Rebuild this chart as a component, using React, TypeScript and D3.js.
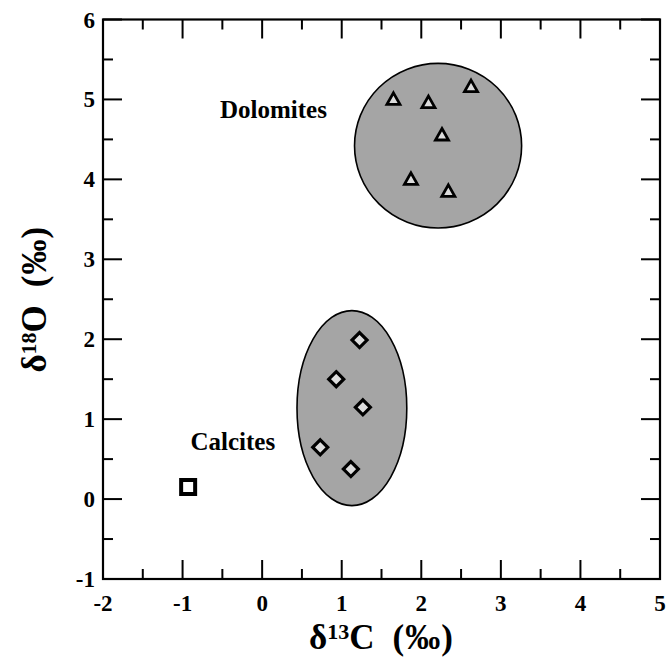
import React from "react";
import * as d3 from "d3";

const xDomain: [number, number] = [-2, 5];
const yDomain: [number, number] = [-1, 6];
const xTicks = [-2, -1, 0, 1, 2, 3, 4, 5];
const yTicks = [-1, 0, 1, 2, 3, 4, 5, 6];
const xMinor = [-1.5, -0.5, 0.5, 1.5, 2.5, 3.5, 4.5];
const yMinor = [-0.5, 0.5, 1.5, 2.5, 3.5, 4.5, 5.5];

// Dolomites (triangles)
const dolomiteX = [1.65, 2.09, 2.625, 2.26, 1.87, 2.34];
const dolomiteY = [5.0, 4.96, 5.16, 4.555, 4.0, 3.85];
// Calcites (diamonds)
const calciteX = [1.224, 0.931, 1.266, 0.73, 1.115];
const calciteY = [1.99, 1.5, 1.148, 0.648, 0.376];
// Single square point
const squareX = [-0.93];
const squareY = [0.151];

// Fields (ellipses): center x, center y, radius x, radius y
const dolomiteField = [2.211, 4.421, 1.05, 1.03];
const calciteField = [1.128, 1.138, 0.69, 1.22];

const W = 668;
const H = 660;
const left = 103;
const right = 660;
const top = 19.5;
const bottom = 579;

export default function App() {
  const x = d3.scaleLinear().domain(xDomain).range([left, right]);
  const y = d3.scaleLinear().domain(yDomain).range([bottom, top]);
  const font = "'Liberation Serif', 'Times New Roman', Times, serif";
  const major = 19;
  const minor = 10;
  const ell = (f: number[]) => ({
    cx: x(f[0]),
    cy: y(f[1]),
    rx: x(f[0] + f[2]) - x(f[0]),
    ry: y(f[1]) - y(f[1] + f[3]),
  });
  const dF = ell(dolomiteField);
  const cF = ell(calciteField);
  const tri = "M0,-6.5L6.5,5L-6.5,5Z";
  const dia = "M0,-7.5L7.5,0L0,7.5L-7.5,0Z";

  const title = (sup: string, letter: string) => (
    <>
      δ
      <tspan fontSize={22} dy={-10}>
        {sup}
      </tspan>
      <tspan dy={10}>{letter}</tspan>
      <tspan dx={18} letterSpacing={1}>
        (‰)
      </tspan>
    </>
  );

  return (
    <svg
      width={W}
      height={H}
      style={{ position: "absolute", left: 0, top: 0, display: "block", background: "#fff" }}
      fontFamily={font}
      fontWeight="bold"
    >
      {/* fields */}
      <ellipse {...dF} fill="#a5a5a5" stroke="#000" strokeWidth={1.6} />
      <ellipse {...cF} fill="#a5a5a5" stroke="#000" strokeWidth={1.6} />

      {/* ticks */}
      <g stroke="#000" strokeWidth={2}>
        {xTicks.map((t) => (
          <g key={"xt" + t}>
            <line x1={x(t)} x2={x(t)} y1={bottom} y2={bottom - major} />
            <line x1={x(t)} x2={x(t)} y1={top} y2={top + major} />
          </g>
        ))}
        {xMinor.map((t) => (
          <g key={"xm" + t}>
            <line x1={x(t)} x2={x(t)} y1={bottom} y2={bottom - minor} />
            <line x1={x(t)} x2={x(t)} y1={top} y2={top + minor} />
          </g>
        ))}
        {yTicks.map((t) => (
          <g key={"yt" + t}>
            <line x1={left} x2={left + major} y1={y(t)} y2={y(t)} />
            <line x1={right} x2={right - major} y1={y(t)} y2={y(t)} />
          </g>
        ))}
        {yMinor.map((t) => (
          <g key={"ym" + t}>
            <line x1={left} x2={left + minor} y1={y(t)} y2={y(t)} />
            <line x1={right} x2={right - minor} y1={y(t)} y2={y(t)} />
          </g>
        ))}
      </g>
      <rect x={left} y={top} width={right - left} height={bottom - top} fill="none" stroke="#000" strokeWidth={2.2} />

      {/* tick labels */}
      <g fontSize={23} fill="#000">
        {xTicks.map((t) => (
          <text key={"xl" + t} x={x(t)} y={611} textAnchor="middle">
            {t}
          </text>
        ))}
        {yTicks.map((t) => (
          <text key={"yl" + t} x={95} y={y(t)} dy="0.35em" textAnchor="end">
            {t}
          </text>
        ))}
      </g>

      {/* points */}
      {dolomiteX.map((v, i) => (
        <path
          key={"d" + i}
          d={tri}
          transform={`translate(${x(v)},${y(dolomiteY[i])})`}
          fill="#dcdcdc"
          stroke="#000"
          strokeWidth={2.8}
          strokeLinejoin="miter"
        />
      ))}
      {calciteX.map((v, i) => (
        <path
          key={"c" + i}
          d={dia}
          transform={`translate(${x(v)},${y(calciteY[i])})`}
          fill="#dcdcdc"
          stroke="#000"
          strokeWidth={3.2}
        />
      ))}
      {squareX.map((v, i) => (
        <rect
          key={"s" + i}
          x={x(v) - 7}
          y={y(squareY[i]) - 7}
          width={14}
          height={14}
          fill="#fff"
          stroke="#000"
          strokeWidth={4}
        />
      ))}

      {/* labels */}
      <text x={220} y={117.5} fontSize={25}>Dolomites</text>
      <text x={190.5} y={449.5} fontSize={25}>Calcites</text>

      {/* axis titles */}
      <text x={(left + right) / 2} y={649} fontSize={35} textAnchor="middle">
        {title("13", "C")}
      </text>
      <text
        transform={`translate(46,${(top + bottom) / 2}) rotate(-90)`}
        fontSize={35}
        textAnchor="middle"
      >
        {title("18", "O")}
      </text>
    </svg>
  );
}
